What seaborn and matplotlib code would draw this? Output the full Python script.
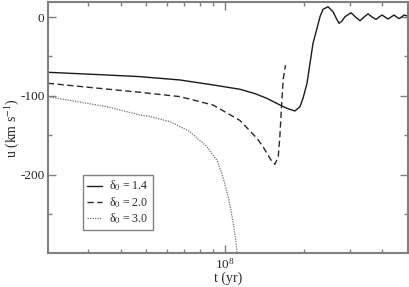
import numpy as np
import pandas as pd
import matplotlib
matplotlib.use("Agg")
import matplotlib.pyplot as plt
import matplotlib.ticker as mticker
import seaborn as sns

# curves: t in yr, u in km/s
t_14 = [2.10e7, 3.32e7, 4.72e7, 6.72e7, 9.00e7, 1.142e8, 1.303e8, 1.448e8,
        1.624e8, 1.728e8, 1.854e8, 1.938e8, 1.990e8, 2.062e8, 2.117e8, 2.174e8,
        2.252e8, 2.312e8, 2.374e8, 2.481e8, 2.593e8, 2.663e8, 2.734e8, 2.807e8,
        2.883e8, 3.040e8, 3.149e8, 3.291e8, 3.409e8, 3.531e8, 3.658e8, 3.789e8,
        3.890e8, 3.995e8, 4.102e8, 4.212e8, 4.325e8, 4.441e8, 4.540e8, 4.642e8,
        4.745e8, 4.852e8, 5.026e8]
u_14 = [-70, -73, -75.5, -79.7, -86, -91.5, -97, -103,
        -111.4, -115.6, -119, -113.5, -103, -84, -58.6, -33.3,
        -14.3, 0.4, 9.7, 13, 6.7, -1, -8, -5,
        0.4, 5.4, 0.5, -4.7, 0, 4, 0, -3,
        0, 2.5, 0, -2.5, 0, 2.5, 0, -2,
        0, 2.5, 1]

t_20 = [2.10e7, 3.32e7, 4.72e7, 6.72e7, 9.00e7, 1.142e8, 1.326e8, 1.398e8,
        1.448e8, 1.501e8, 1.554e8, 1.600e8, 1.624e8, 1.649e8, 1.673e8, 1.706e8]
u_20 = [-83.9, -90.4, -95.3, -100.8, -111.4, -131, -153.6, -164,
        -172.6, -181, -186.5, -177, -150, -110, -78, -61]

t_30 = [2.10e7, 3.53e7, 4.72e7, 5.16e7, 6.16e7, 7.34e7, 8.02e7, 8.53e7,
        9.00e7, 9.32e7, 9.82e7, 1.036e8, 1.076e8, 1.102e8, 1.115e8]
u_30 = [-100.9, -113.5, -124, -126, -132.5, -145, -156.5, -164,
        -175, -181, -202, -231.6, -261, -285, -300]

labels = ["δ$_0$ = 1.4", "δ$_0$ = 2.0", "δ$_0$ = 3.0"]

sns.set_style("ticks")
plt.rcParams["font.family"] = ["Liberation Serif", "DejaVu Serif"]
plt.rcParams["mathtext.fontset"] = "stix"
plt.rcParams["axes.unicode_minus"] = False
plt.rcParams["font.size"] = 10

fig = plt.figure(figsize=(4.09, 2.87), dpi=100)
ax = fig.add_axes([0.117, 0.118, 0.881, 0.875])

sns.lineplot(x=t_14, y=u_14, ax=ax, color="#1a1a1a", lw=1.0, label=labels[0])
sns.lineplot(x=t_20, y=u_20, ax=ax, color="#2a2a2a", lw=1.0, label=labels[1],
             linestyle=(0, (4.5, 2.5)))
sns.lineplot(x=t_30, y=u_30, ax=ax, color="#707070", lw=0.9, label=labels[2],
             linestyle=(0, (1, 1)))

ax.set_xscale("log")
ax.set_xlim(2.1e7, 5.03e8)
ax.set_ylim(-299, 19)

ax.xaxis.set_major_locator(mticker.LogLocator(base=10))
ax.xaxis.set_minor_locator(mticker.LogLocator(base=10, subs=np.arange(2, 10)))
ax.xaxis.set_minor_formatter(mticker.NullFormatter())
ax.yaxis.set_major_locator(mticker.MultipleLocator(100))
ax.yaxis.set_minor_locator(mticker.MultipleLocator(50))

ax.tick_params(which="both", direction="in", top=True, right=True,
               color="#808080", labelsize=9.5, pad=2.5)
ax.tick_params(which="major", length=6, width=1)
ax.tick_params(which="minor", length=3, width=1)
for s in ax.spines.values():
    s.set_color("#808080")
    s.set_linewidth(1.5)

ax.set_xlabel("t (yr)", fontsize=10, labelpad=0)
ax.set_ylabel("u (km s$^{-1}$)", fontsize=10)
ax.yaxis.set_label_coords(-0.075, 0.5)

leg = ax.legend(loc="lower left", bbox_to_anchor=(0.097, 0.092), fontsize=8.5,
                frameon=True, fancybox=False, borderpad=0.35, labelspacing=0.15,
                handlelength=1.3, handletextpad=0.6, borderaxespad=0)
leg.get_frame().set_edgecolor("#808080")
leg.get_frame().set_linewidth(1.0)
leg.get_frame().set_alpha(1)

fig.savefig("out.png", dpi=100)
